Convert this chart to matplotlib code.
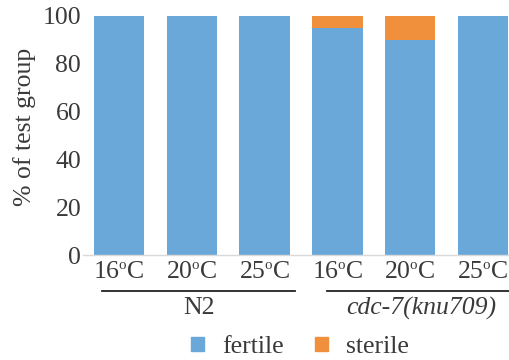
import matplotlib
matplotlib.use("Agg")
import matplotlib.pyplot as plt
from matplotlib.patches import Patch
import numpy as np
try:
    import matplotlib._mathtext as _mt
    _mt.SHRINK_FACTOR = 0.58
except Exception:
    pass

plt.rcParams['font.family'] = ['Liberation Serif', 'DejaVu Serif']
plt.rcParams['mathtext.fontset'] = 'custom'
plt.rcParams['mathtext.rm'] = 'Liberation Serif'
plt.rcParams['mathtext.it'] = 'Liberation Serif:italic'

temps = ["16", "20", "25", "16", "20", "25"]
groups = ["N2", "cdc-7(knu709)"]
fertile = [100, 100, 100, 95, 90, 100]
sterile = [0, 0, 0, 5, 10, 0]

blue = "#6aa8da"
orange = "#f0903c"
tc = '#3a3a3a'
fs = 18.5

fig = plt.figure(figsize=(5.09, 3.6), dpi=100)
ax = fig.add_axes([82.6/509, 105/360, 436.8/509, 239/360])
x = np.arange(len(temps))
ax.bar(x, fertile, width=0.69, color=blue)
ax.bar(x, sterile, width=0.69, bottom=fertile, color=orange)
ax.set_xlim(-0.5, len(temps) - 0.5)
ax.set_ylim(0, 100)
ax.set_yticks([0, 20, 40, 60, 80, 100])
ax.tick_params(axis='y', length=0, labelsize=fs, pad=1, colors=tc)
ax.set_xticks(x)
ax.set_xticklabels([t + r"$^{\mathrm{o}}$C" for t in temps])
ax.tick_params(axis='x', length=0, labelsize=fs, pad=4, colors=tc)
for s in ['top', 'right', 'left']:
    ax.spines[s].set_visible(False)
ax.spines['bottom'].set_color('#d9d9d9')
ax.spines['bottom'].set_linewidth(1.0)

tr = ax.get_xaxis_transform()
spans = [(-0.23, 2.42), (2.86, 5.45)]
for (a, b), g, style in zip(spans, groups, ['normal', 'italic']):
    ax.plot([a, b], [-0.151, -0.151], color='#222222', lw=1.3, transform=tr, clip_on=False)
    ax.text((a + b) / 2, -0.222, g, transform=tr, ha='center', va='center',
            fontsize=fs, style=style, color=tc)

fig.text(25/509, 1 - 127/360, "% of test group", rotation=90, ha='center', va='center',
         fontsize=fs, color=tc)

handles = [Patch(color=blue, label='fertile'), Patch(color=orange, label='sterile')]
fig.legend(handles=handles, loc='center', bbox_to_anchor=(300/509, 1 - 347/360), ncol=2,
           frameon=False, fontsize=fs, handlelength=0.5, handleheight=0.5,
           columnspacing=1.25, handletextpad=0.7, labelcolor=tc)

fig.savefig("out.png", dpi=100)
